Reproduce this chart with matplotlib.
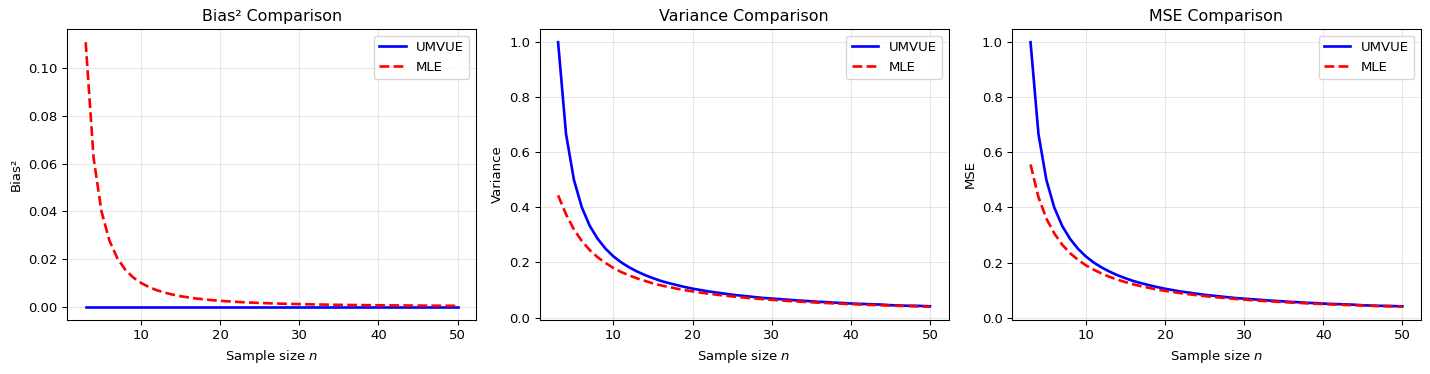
import matplotlib
matplotlib.use("Agg")
import matplotlib.pyplot as plt

n_values = list(range(3, 51))

umvue_bias2 = [0.0] * 48
mle_bias2 = [0.111, 0.0625, 0.04, 0.0278, 0.0204, 0.0156, 0.0123, 0.01, 0.00826, 0.00694,
             0.00592, 0.0051, 0.00444, 0.0039, 0.00346, 0.00309, 0.00277, 0.0025, 0.00227, 0.00207,
             0.00189, 0.00174, 0.0016, 0.00148, 0.00137, 0.00128, 0.00119, 0.00111, 0.00104, 0.00098,
             0.00092, 0.00087, 0.00082, 0.00077, 0.00073, 0.00069, 0.00066, 0.00063, 0.00059, 0.00057,
             0.00054, 0.00052, 0.00049, 0.00047, 0.00045, 0.00043, 0.00042, 0.0004]

umvue_var = [1.0, 0.667, 0.5, 0.4, 0.333, 0.286, 0.25, 0.222, 0.2, 0.182,
             0.167, 0.154, 0.143, 0.133, 0.125, 0.118, 0.111, 0.105, 0.1, 0.095,
             0.091, 0.087, 0.083, 0.08, 0.077, 0.074, 0.071, 0.069, 0.067, 0.065,
             0.0625, 0.061, 0.059, 0.057, 0.056, 0.054, 0.053, 0.051, 0.05, 0.049,
             0.048, 0.047, 0.045, 0.044, 0.043, 0.043, 0.042, 0.041]
mle_var = [0.444, 0.375, 0.32, 0.278, 0.245, 0.219, 0.198, 0.18, 0.165, 0.153,
           0.142, 0.133, 0.124, 0.117, 0.111, 0.105, 0.0997, 0.095, 0.0907, 0.0868,
           0.0832, 0.0799, 0.0768, 0.074, 0.0713, 0.0689, 0.0666, 0.0644, 0.0624, 0.0605,
           0.0588, 0.0571, 0.0555, 0.054, 0.0526, 0.0512, 0.05, 0.0488, 0.0476, 0.0465,
           0.0454, 0.0444, 0.0435, 0.0425, 0.0416, 0.0408, 0.04, 0.0392]

umvue_mse = [1.0, 0.667, 0.5, 0.4, 0.333, 0.286, 0.25, 0.222, 0.2, 0.182,
             0.167, 0.154, 0.143, 0.133, 0.125, 0.118, 0.111, 0.105, 0.1, 0.095,
             0.091, 0.087, 0.083, 0.08, 0.077, 0.074, 0.071, 0.069, 0.067, 0.065,
             0.0625, 0.061, 0.059, 0.057, 0.056, 0.054, 0.053, 0.051, 0.05, 0.049,
             0.048, 0.047, 0.045, 0.044, 0.043, 0.043, 0.042, 0.041]
mle_mse = [0.556, 0.4375, 0.36, 0.306, 0.265, 0.234, 0.21, 0.19, 0.174, 0.16,
           0.148, 0.138, 0.129, 0.121, 0.114, 0.108, 0.102, 0.0975, 0.093, 0.0888,
           0.0851, 0.0816, 0.0784, 0.0754, 0.0727, 0.0702, 0.0678, 0.0656, 0.0635, 0.0615,
           0.0597, 0.058, 0.0563, 0.0548, 0.0533, 0.0519, 0.0506, 0.0494, 0.0482, 0.0471,
           0.046, 0.0449, 0.044, 0.043, 0.0421, 0.0412, 0.0404, 0.0396]

panels = [
    ("Bias² Comparison", "Bias²", umvue_bias2, mle_bias2),
    ("Variance Comparison", "Variance", umvue_var, mle_var),
    ("MSE Comparison", "MSE", umvue_mse, mle_mse),
]

DPI = 95.33
fig, axes = plt.subplots(1, 3, figsize=(1430 / DPI, 374 / DPI), dpi=DPI)
for ax, (title, ylabel, u, m) in zip(axes, panels):
    ax.plot(n_values, u, color="blue", lw=2, label="UMVUE")
    ax.plot(n_values, m, color="red", lw=2, ls="--", label="MLE")
    ax.set_title(title)
    ax.set_xlabel("Sample size $n$")
    ax.set_ylabel(ylabel)
    ax.grid(True, alpha=0.3)
    ax.legend(loc="upper right")

fig.subplots_adjust(left=0.0469, right=0.9937, bottom=0.1444, top=0.9225, wspace=0.155)
fig.savefig("out.png", dpi=DPI)
